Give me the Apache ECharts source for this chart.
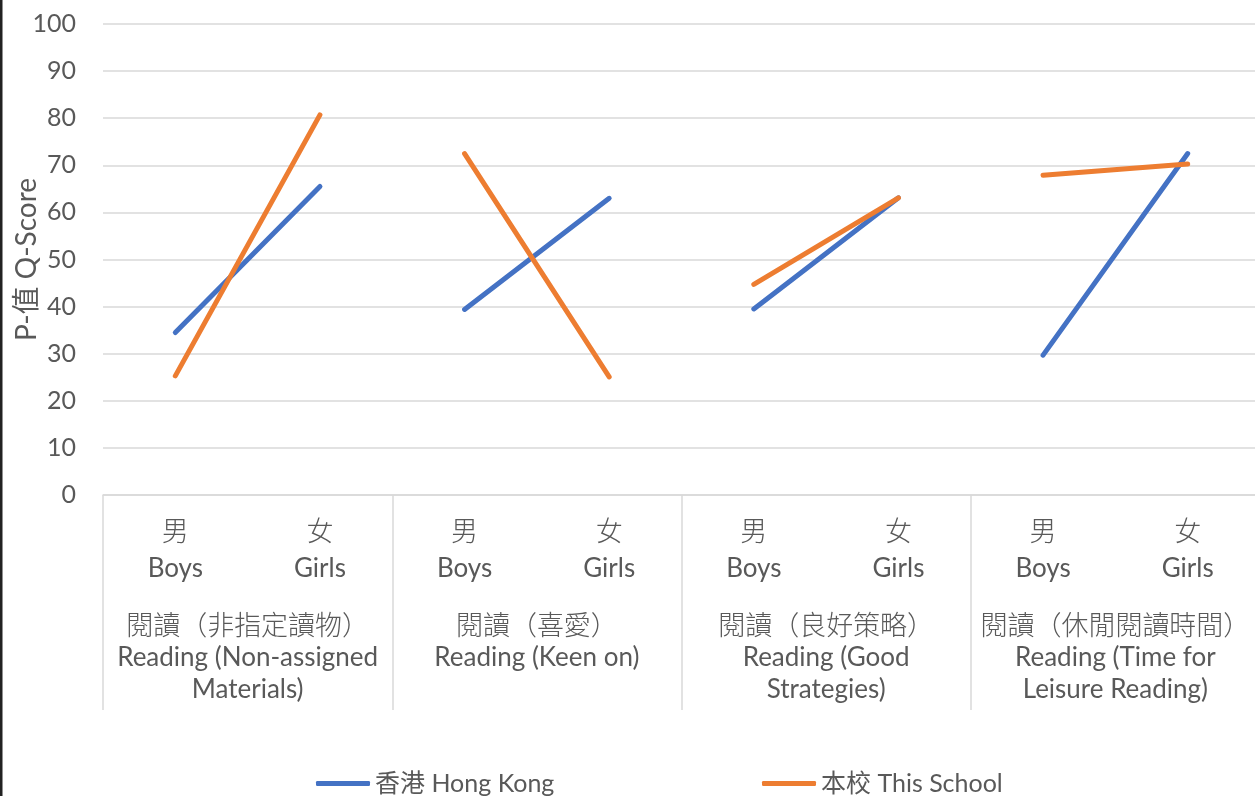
<!DOCTYPE html>
<html>
<head>
<meta charset="utf-8">
<script src="https://cdn.jsdelivr.net/npm/echarts@6/dist/echarts.min.js"></script>
<style>
html,body{margin:0;padding:0;background:#fff;}
#main{width:1255px;height:796px;}
</style>
</head>
<body>
<div id="main"></div>
<script>
const genderZh = ['男', '女'];
const genderEn = ['Boys', 'Girls'];
const groupsZh = ['閱讀（非指定讀物）', '閱讀（喜愛）', '閱讀（良好策略）', '閱讀（休閒閱讀時間）'];
const groupsEn = ['Reading (Non-assigned\nMaterials)', 'Reading (Keen on)', 'Reading (Good\nStrategies)', 'Reading (Time for\nLeisure Reading)'];
const hkBoys = [34.5, 39.4, 39.5, 29.7];
const hkGirls = [65.5, 63.0, 63.1, 72.5];
const schoolBoys = [25.3, 72.5, 44.7, 67.9];
const schoolGirls = [80.7, 25.1, 63.1, 70.3];
const seriesNames = ['香港 Hong Kong', '本校 This School'];
const seriesColors = ['#4472C4', '#ED7D31'];
const yTicks = [0, 10, 20, 30, 40, 50, 60, 70, 80, 90, 100];

const font = 'Lato, "Noto Sans CJK TC", sans-serif';
const cjk = '"Noto Sans CJK TC", sans-serif';
const textColor = '#595959';

const categories = [];
groupsZh.forEach((g, gi) => {
  genderZh.forEach((z, i) => categories.push(gi + '|' + i));
});

function groupSeries(name, color, boys, girls) {
  return boys.map((b, gi) => {
    const d = categories.map(() => '-');
    d[gi * 2] = b;
    d[gi * 2 + 1] = girls[gi];
    return {
      type: 'line', name: name, data: d, symbol: 'none',
      xAxisIndex: 0, yAxisIndex: 0,
      lineStyle: { color: color, width: 5, cap: 'round' },
      itemStyle: { color: color },
      connectNulls: false, silent: true, animation: false
    };
  });
}

const series = [].concat(
  groupSeries(seriesNames[0], seriesColors[0], hkBoys, hkGirls),
  groupSeries(seriesNames[1], seriesColors[1], schoolBoys, schoolGirls)
);

const chart = echarts.init(document.getElementById('main'), null, { renderer: 'canvas' });
chart.setOption({
  animation: false,
  backgroundColor: '#fff',
  grid: { left: 103, top: 24, width: 1157, height: 471, containLabel: false, outerBoundsMode: 'none' },
  legend: [
    {
      data: [seriesNames[0]], left: 311, top: 766, itemWidth: 54, itemHeight: 5, icon: 'roundRect',
      itemGap: 5, textStyle: { fontFamily: font, fontSize: 25, color: textColor }
    },
    {
      data: [seriesNames[1]], left: 757, top: 766, itemWidth: 54, itemHeight: 5, icon: 'roundRect',
      itemGap: 5, textStyle: { fontFamily: font, fontSize: 25, color: textColor }
    }
  ],
  xAxis: [
    {
      type: 'category', data: categories, position: 'bottom', boundaryGap: true,
      axisLine: { show: true, lineStyle: { color: '#d9d9d9', width: 1.5 } },
      axisTick: { show: false },
      axisLabel: {
        interval: 0, margin: 17,
        formatter: v => {
          const i = +v.split('|')[1];
          return '{zh|' + genderZh[i] + '}\n{en|' + genderEn[i] + '}';
        },
        rich: {
          zh: { fontFamily: cjk, fontSize: 27, fontWeight: 300, color: textColor, lineHeight: 38 },
          en: { fontFamily: font, fontSize: 26, color: textColor, lineHeight: 38 }
        }
      }
    },
    {
      type: 'category', data: groupsZh, position: 'bottom', boundaryGap: true,
      axisLine: { show: false },
      axisTick: { show: true, interval: 0, length: 215, lineStyle: { color: '#d9d9d9', width: 1.5 } },
      axisLabel: {
        interval: 0, margin: 113,
        formatter: (v, idx) => '{zh|' + groupsZh[idx] + '}\n{en|' + groupsEn[idx].split('\n').join('}\n{en|') + '}',
        rich: {
          zh: { fontFamily: cjk, fontSize: 27, fontWeight: 300, color: textColor, lineHeight: 34 },
          en: { fontFamily: font, fontSize: 26, color: textColor, lineHeight: 32 }
        }
      }
    }
  ],
  yAxis: {
    type: 'value', min: 0, max: 100, interval: 10,
    name: 'P-值 Q-Score', nameLocation: 'middle', nameRotate: 90, nameGap: 62, nameMoveOverlap: false,
    nameTextStyle: { fontFamily: font, fontSize: 28, color: textColor },
    axisLine: { show: false }, axisTick: { show: false },
    axisLabel: {
      margin: 27, fontFamily: font, fontSize: 25, color: textColor,
      formatter: v => yTicks.includes(v) ? String(v) : ''
    },
    splitLine: { show: true, lineStyle: { color: '#d9d9d9', width: 1.5 } }
  },
  graphic: [
    { type: 'rect', left: 0, top: 0, shape: { x: 0, y: 0, width: 2.5, height: 796 }, style: { fill: '#222' }, silent: true }
  ],
  series: series
});
</script>
</body>
</html>
